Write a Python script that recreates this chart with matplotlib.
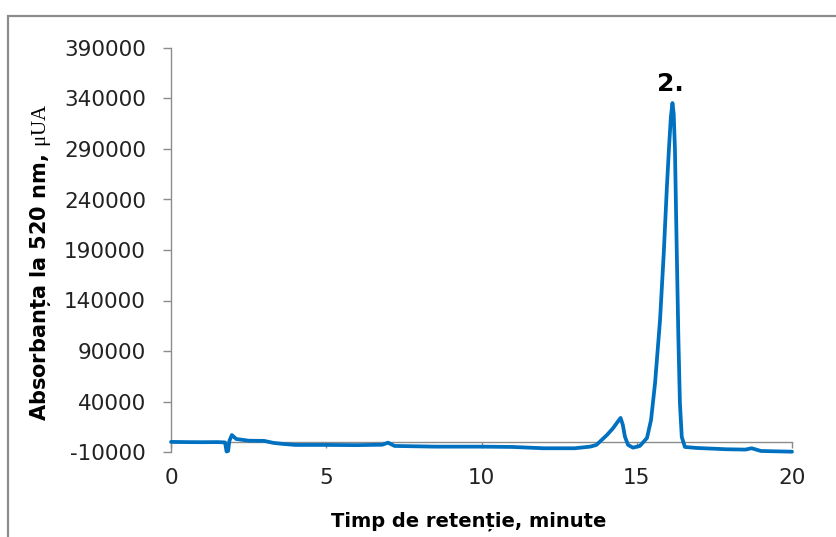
import matplotlib
matplotlib.use("Agg")
import matplotlib.pyplot as plt
from matplotlib.patches import Rectangle

# Chromatogram trace: retention time (min) vs absorbance at 520 nm (µUA)
time_min = [0.0, 0.5, 1.0, 1.5, 1.74, 1.79, 1.84, 1.88, 1.96, 2.1, 2.5, 3.0,
            3.3, 3.6, 4.0, 5.0, 6.0, 6.8, 6.99, 7.2, 8.5, 10.0, 11.0, 12.0,
            13.0, 13.5, 13.7, 14.04, 14.24, 14.40, 14.48, 14.55, 14.62, 14.72,
            14.88, 15.1, 15.33, 15.46, 15.59, 15.75, 15.87, 15.97, 16.04,
            16.10, 16.15, 16.19, 16.23, 16.28, 16.34, 16.39, 16.45, 16.55,
            16.93, 17.9, 18.5, 18.7, 19.0, 20.0]
absorbance = [0, -200, -300, -200, -500, -9500, -9000, 1000, 6800, 2900, 1200,
              1000, -1000, -2000, -3000, -3000, -3200, -2800, -800, -4000,
              -4700, -4700, -5000, -6300, -6300, -4700, -3000, 6800, 13700,
              20500, 23700, 17000, 5100, -3000, -5700, -4000, 3900, 21700,
              58300, 120700, 187000, 252000, 292000, 322000, 335500, 325000,
              290000, 203000, 104000, 38500, 4900, -5000, -6000, -7300, -7600,
              -6300, -9000, -9700]

x_ticks = [0, 5, 10, 15, 20]
y_ticks = [-10000, 40000, 90000, 140000, 190000, 240000, 290000, 340000, 390000]
peak_label = "2."
peak_time = 16.15
peak_value = 335500

plt.rcParams["mathtext.fontset"] = "custom"
plt.rcParams["mathtext.rm"] = "Liberation Serif"

W, H = 836, 537
fig = plt.figure(figsize=(W / 100, H / 100), dpi=100)
ax = fig.add_axes([171 / W, 1 - 452 / H, (792 - 171) / W, (452 - 48) / H])

# Outer chart frame
fig.patches.append(Rectangle((8 / W, -0.1), 1.2, 1 - 16 / H + 0.1,
                             transform=fig.transFigure, fill=False,
                             edgecolor="#8c8c8c", linewidth=1.6))

ax.plot(time_min, absorbance, color="#0070C0", linewidth=2.7,
        solid_capstyle="round", solid_joinstyle="round", clip_on=False, zorder=3)

ax.set_xlim(0, 20)
ax.set_ylim(-10000, 390000)
ax.set_xticks(x_ticks)
ax.set_yticks(y_ticks)
ax.set_yticklabels([str(v) for v in y_ticks])

for side in ("top", "right"):
    ax.spines[side].set_visible(False)
ax.spines["bottom"].set_position(("data", 0))
for side in ("left", "bottom"):
    ax.spines[side].set_color("#8c8c8c")
    ax.spines[side].set_linewidth(1.0)

ax.tick_params(axis="y", direction="out", length=6, width=1.0, color="#8c8c8c",
               pad=12, labelsize=15.5, labelcolor="#222222")
ax.tick_params(axis="x", direction="out", length=4, width=1.0, color="#8c8c8c",
               pad=15, labelsize=15.5, labelcolor="#222222")
for lab in ax.get_xticklabels() + ax.get_yticklabels():
    lab.set_fontfamily("DejaVu Sans")

fig.text(469 / W, 1 - 521 / H, "Timp de retenție, minute", ha="center",
         va="center", fontsize=14, fontweight="bold", family="DejaVu Sans")
fig.text(41 / W, 1 - 262 / H, r"Absorbanța la 520 nm, $\mathrm{\mu UA}$",
         ha="center", va="center", rotation=90, fontsize=15,
         fontweight="bold", family="DejaVu Sans")

ax.annotate(peak_label, (peak_time, peak_value), xytext=(-1.5, 5),
            textcoords="offset points", ha="center", va="bottom",
            fontsize=18, fontweight="bold", family="DejaVu Sans",
            annotation_clip=False)

fig.savefig("out.png", dpi=100)
